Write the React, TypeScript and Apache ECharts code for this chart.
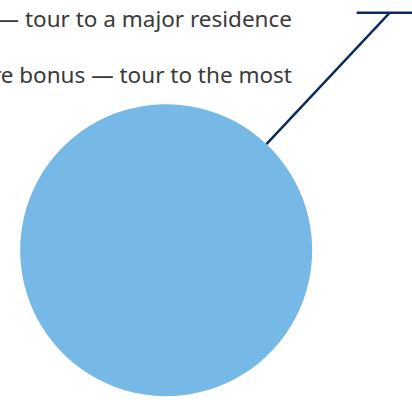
import React, { useEffect, useRef } from "react";
import * as echarts from "echarts";

// Data
const labelLines = ["Base bonus — tour to a major residence", "Core bonus — tour to the most"];
const categories = [labelLines.join("\n")];
const values = [100];
const colors = ["#77b9e6"];

export default function App() {
  const ref = useRef<HTMLDivElement>(null);
  useEffect(() => {
    if (!ref.current) return;
    const chart = echarts.init(ref.current, undefined, { renderer: "svg" });
    chart.setOption({
      animation: false,
      series: [
        {
          type: "pie",
          center: [166.5, 250.5],
          radius: 146,
          startAngle: 226.8,
          avoidLabelOverlap: false,
          silent: true,
          emphasis: { disabled: true },
          data: categories.map((name, i) => ({
            name,
            value: values[i],
            itemStyle: { color: colors[i] },
          })),
          label: {
            show: true,
            formatter: "{b}",
            color: "#3a3a3a",
            fontFamily: "Noto Sans",
            fontSize: 22.5,
            lineHeight: 56,
            overflow: "none",
          },
          labelLine: {
            show: true,
            length: 180,
            length2: 40,
            lineStyle: { color: "#0b2a5e", width: 2.5 },
          },
          labelLayout: (params: any) => {
            const pts = params.labelLinePoints;
            const out: any = { x: 292, y: 46, align: "right", verticalAlign: "middle" };
            if (pts && pts.length >= 2) {
              const p0 = pts[0];
              const p1 = pts[1];
              out.labelLinePoints = [
                p0,
                p1,
                [p1[0] - 33, p1[1]],
                [p1[0] + 40, p1[1]],
              ];
            }
            return out;
          },
        },
      ],
    });
    return () => chart.dispose();
  }, []);
  return (
    <div
      ref={ref}
      style={{ position: "absolute", left: 0, top: 0, width: 412, height: 400 }}
    />
  );
}
